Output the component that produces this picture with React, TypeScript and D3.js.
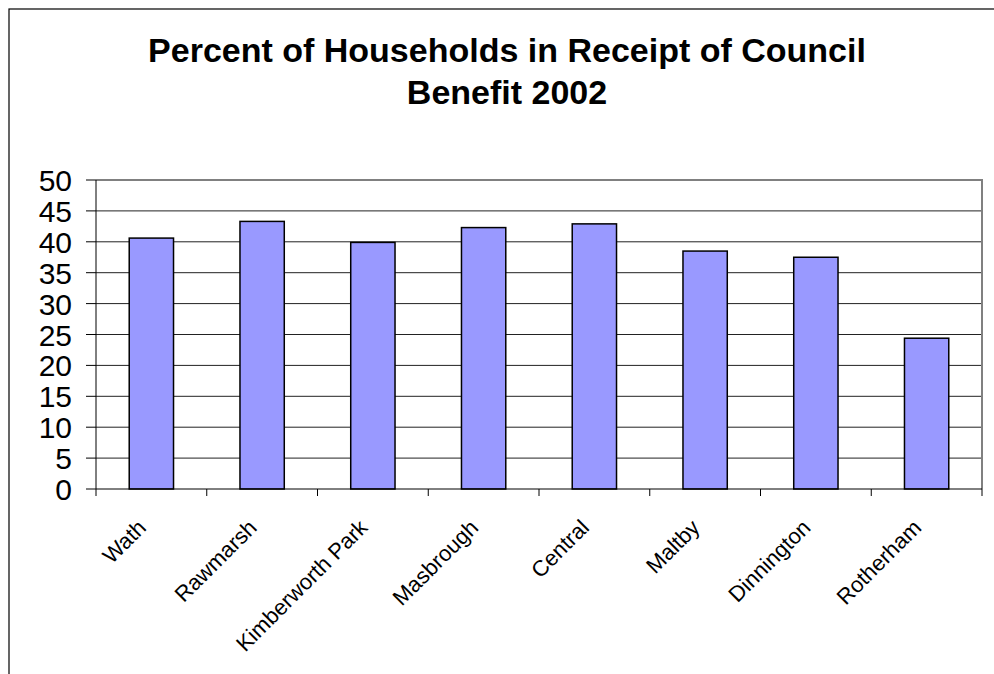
import React from "react";
import * as d3 from "d3";

const categories = ["Wath", "Rawmarsh", "Kimberworth Park", "Masbrough", "Central", "Maltby", "Dinnington", "Rotherham"];
const values = [40.6, 43.3, 39.9, 42.3, 42.9, 38.5, 37.5, 24.4];
const yTicks = [0, 5, 10, 15, 20, 25, 30, 35, 40, 45, 50];
const titleLines = ["Percent of Households in Receipt of Council", "Benefit 2002"];

const W = 994;
const H = 674;
const plot = { left: 96, right: 982, top: 180, bottom: 489 };
const FONT = "'Liberation Sans', Arial, Helvetica, sans-serif";

export default function App() {
  const x = d3.scaleBand<string>().domain(categories).range([plot.left, plot.right]).paddingInner(0.6).paddingOuter(0.3);
  const xb = d3.scaleBand<string>().domain(categories).range([plot.left, plot.right]).padding(0);
  const y = d3.scaleLinear().domain([0, 50]).range([plot.bottom, plot.top]);
  const boundaries = categories.map((c) => xb(c) as number).concat([plot.right]);

  return (
    <svg width={W} height={H} style={{ position: "absolute", left: 0, top: 0, background: "#fff" }}>
      <rect x={9} y={9} width={W + 20} height={H + 20} fill="#fff" stroke="#000" strokeWidth={1.2} />
      {titleLines.map((t, i) => (
        <text key={t} x={507} y={62 + i * 42} textAnchor="middle" fontFamily={FONT} fontWeight="bold" fontSize={34} fill="#000">
          {t}
        </text>
      ))}
      {/* gridlines */}
      {yTicks.filter((v) => v > 0 && v < 50).map((v) => (
        <line key={v} x1={plot.left} x2={plot.right} y1={y(v)} y2={y(v)} stroke="#222" strokeWidth={1} />
      ))}
      {/* plot border top/right */}
      <polyline points={`${plot.left},${plot.top} ${plot.right},${plot.top} ${plot.right},${plot.bottom}`} fill="none" stroke="#808080" strokeWidth={2} />
      {/* bars */}
      {categories.map((c, i) => (
        <rect key={c} x={x(c)} y={y(values[i])} width={x.bandwidth()} height={y(0) - y(values[i])} fill="#9999FF" stroke="#000" strokeWidth={1.5} />
      ))}
      {/* axes */}
      <line x1={plot.left} x2={plot.left} y1={plot.top} y2={plot.bottom} stroke="#000" strokeWidth={1} />
      <line x1={plot.left} x2={plot.right} y1={plot.bottom} y2={plot.bottom} stroke="#000" strokeWidth={1} />
      {yTicks.map((v) => (
        <g key={v}>
          <line x1={plot.left - 10} x2={plot.left} y1={y(v)} y2={y(v)} stroke="#000" strokeWidth={1} />
          <text x={72} y={y(v) + 11} textAnchor="end" fontFamily={FONT} fontSize={30} fill="#000">
            {v}
          </text>
        </g>
      ))}
      {boundaries.map((b, i) => (
        <line key={i} x1={b} x2={b} y1={plot.bottom} y2={plot.bottom + 7} stroke="#000" strokeWidth={1} />
      ))}
      {categories.map((c) => {
        const cx = (xb(c) as number) + xb.bandwidth() / 2 - 4;
        const cy = plot.bottom + 40;
        return (
          <text key={c} x={cx} y={cy} textAnchor="end" transform={`rotate(-45 ${cx} ${cy})`} fontFamily={FONT} fontSize={22} fill="#000">
            {c}
          </text>
        );
      })}
    </svg>
  );
}
